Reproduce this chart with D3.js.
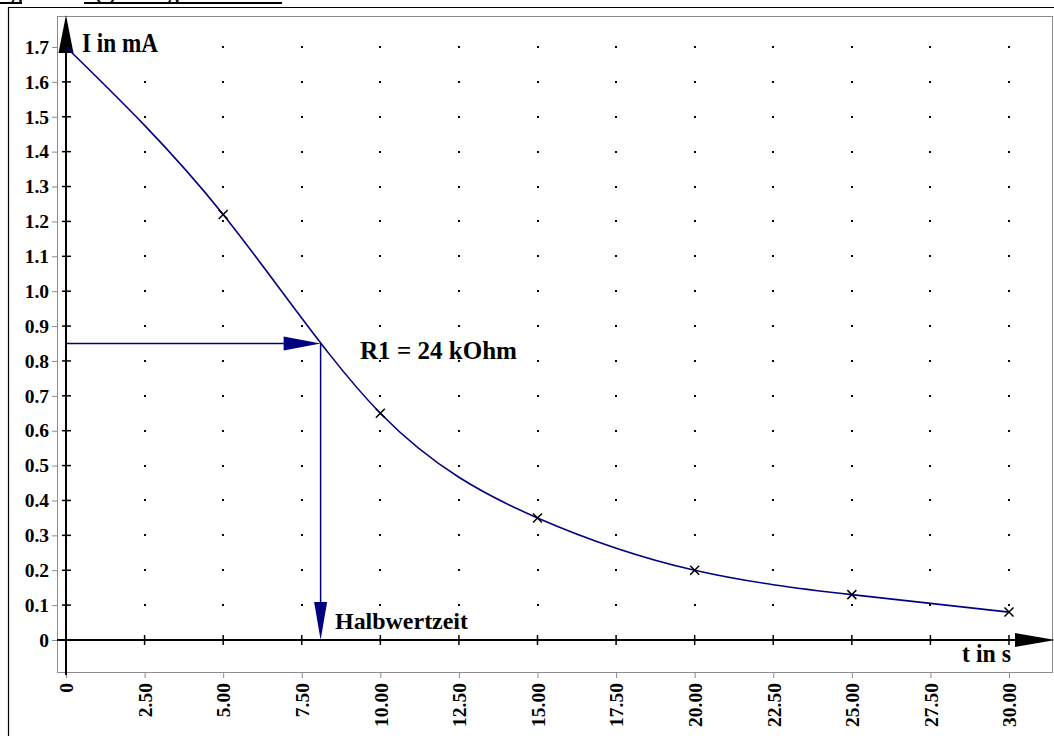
<!DOCTYPE html>
<html>
<head>
<meta charset="utf-8">
<script src="https://cdn.jsdelivr.net/npm/d3@7"></script>
<style>
  html, body { margin: 0; padding: 0; background: #fff; }
  svg { display: block; }
  text { font-family: "Liberation Serif", "Times New Roman", serif; font-weight: bold; }
</style>
</head>
<body>
<svg id="chart" width="1054" height="736"></svg>
<script>
// Measured discharge current of the capacitor
const times = [0, 5, 10, 15, 20, 25, 30];            // t in s
const currents = [1.7, 1.22, 0.65, 0.35, 0.2, 0.13, 0.08]; // I in mA
const markedTimes = [5, 10, 15, 20, 25, 30];
const markedCurrents = [1.22, 0.65, 0.35, 0.2, 0.13, 0.08];

// Half-life reading
const halfTime = 8.1;
const halfCurrent = 0.85;

// Axis ticks and their labels
const xTicks = [0, 2.5, 5, 7.5, 10, 12.5, 15, 17.5, 20, 22.5, 25, 27.5, 30];
const xTickLabels = ["0", "2.50", "5.00", "7.50", "10.00", "12.50", "15.00", "17.50", "20.00", "22.50", "25.00", "27.50", "30.00"];
const yTicks = [0, 0.1, 0.2, 0.3, 0.4, 0.5, 0.6, 0.7, 0.8, 0.9, 1.0, 1.1, 1.2, 1.3, 1.4, 1.5, 1.6, 1.7];
const yTickLabels = ["0", "0.1", "0.2", "0.3", "0.4", "0.5", "0.6", "0.7", "0.8", "0.9", "1.0", "1.1", "1.2", "1.3", "1.4", "1.5", "1.6", "1.7"];

const svg = d3.select("#chart");
const navy = "#000080";

const x = d3.scaleLinear().domain([0, 30]).range([66, 1009]);
const y = d3.scaleLinear().domain([0, 1.7]).range([640, 47]);

const frame = { left: 57, top: 16, right: 1052, bottom: 672 };

// Heading (partly outside the page)
svg.append("text").attr("x", 22).attr("y", -1).attr("text-anchor", "end")
  .attr("font-size", 22).text("Entladung");
svg.append("text").attr("x", 86).attr("y", -1)
  .attr("font-size", 22).text("I(t) - Diagramm");
svg.append("line").attr("x1", 0).attr("x2", 22).attr("y1", 3).attr("y2", 3)
  .attr("stroke", "#000").attr("stroke-width", 2);
svg.append("line").attr("x1", 84).attr("x2", 282).attr("y1", 3).attr("y2", 3)
  .attr("stroke", "#000").attr("stroke-width", 2);

// Outer page frame
svg.append("path").attr("d", "M8.5,736 V7.5 H1054")
  .attr("fill", "none").attr("stroke", "#000").attr("stroke-width", 1.2);

// Grey plot frame
svg.append("rect")
  .attr("x", frame.left + 0.5).attr("y", frame.top + 0.5)
  .attr("width", frame.right - frame.left).attr("height", frame.bottom - frame.top)
  .attr("fill", "none").attr("stroke", "#8c8c8c").attr("stroke-width", 1);

// Frame axes carrying the tick labels
const yAxis = d3.axisLeft(y).tickValues(yTicks)
  .tickFormat((d, i) => yTickLabels[i]).tickSize(5).tickPadding(3).tickSizeOuter(0);
const gy = svg.append("g").attr("transform", `translate(${frame.left},0)`).call(yAxis);
gy.select(".domain").remove();
gy.selectAll(".tick line").attr("stroke", "#8c8c8c");
gy.selectAll(".tick text").attr("font-size", 19.5).attr("font-family", "Liberation Serif")
  .attr("font-weight", "bold").attr("fill", "#000");

const xAxis = d3.axisBottom(x).tickValues(xTicks)
  .tickFormat((d, i) => xTickLabels[i]).tickSize(6).tickSizeOuter(0);
const gx = svg.append("g").attr("transform", `translate(0,${frame.bottom})`).call(xAxis);
gx.select(".domain").remove();
gx.selectAll(".tick line").attr("stroke", "#8c8c8c");
gx.selectAll(".tick text")
  .attr("transform", "rotate(-90)")
  .attr("text-anchor", "end")
  .attr("x", -11).attr("y", 0).attr("dy", "0.35em")
  .attr("font-size", 19.5).attr("font-family", "Liberation Serif")
  .attr("font-weight", "bold").attr("fill", "#000");

// Dot grid
const gridPts = [];
xTicks.filter(t => t > 0).forEach(t => yTicks.filter(v => v > 0).forEach(v => gridPts.push([t, v])));
svg.append("g").selectAll("rect").data(gridPts).join("rect")
  .attr("x", d => Math.round(x(d[0])) - 1).attr("y", d => Math.round(y(d[1])) - 1)
  .attr("width", 2).attr("height", 2).attr("fill", "#000");

// Coordinate axes through the origin
svg.append("line").attr("x1", x(0)).attr("x2", x(0)).attr("y1", 30).attr("y2", 675)
  .attr("stroke", "#000").attr("stroke-width", 2);
svg.append("line").attr("x1", frame.left).attr("x2", 1030).attr("y1", y(0)).attr("y2", y(0))
  .attr("stroke", "#000").attr("stroke-width", 2);
// arrow heads
svg.append("path").attr("d", `M${x(0)},15 L${x(0) + 7.5},53 L${x(0) - 7.5},53 Z`).attr("fill", "#000");
svg.append("path").attr("d", `M1056,${y(0)} L1015,${y(0) - 7} L1015,${y(0) + 7} Z`).attr("fill", "#000");

// Tick crosses on the axes
svg.append("g").selectAll("line").data(yTicks.filter(v => v > 0)).join("line")
  .attr("x1", x(0) - 4).attr("x2", x(0) + 5)
  .attr("y1", d => y(d)).attr("y2", d => y(d))
  .attr("stroke", "#000").attr("stroke-width", 1.5);
svg.append("g").selectAll("line").data(xTicks.filter(t => t > 0)).join("line")
  .attr("x1", d => x(d)).attr("x2", d => x(d))
  .attr("y1", y(0) - 5).attr("y2", y(0) + 5)
  .attr("stroke", "#000").attr("stroke-width", 1.5);

// Fitted discharge curve
const line = d3.line().x(d => x(d[0])).y(d => y(d[1])).curve(d3.curveNatural);
svg.append("path").datum(times.map((t, i) => [t, currents[i]]))
  .attr("d", line).attr("fill", "none").attr("stroke", navy).attr("stroke-width", 1.6);

// Measurement crosses
const s = 4.5;
svg.append("g").selectAll("path").data(markedTimes.map((t, i) => [t, markedCurrents[i]])).join("path")
  .attr("d", d => {
    const cx = x(d[0]), cy = y(d[1]);
    return `M${cx - s},${cy - s}L${cx + s},${cy + s}M${cx - s},${cy + s}L${cx + s},${cy - s}`;
  })
  .attr("stroke", "#000").attr("stroke-width", 1.5).attr("fill", "none");

// Half-life construction
const hx = x(halfTime), hy = y(halfCurrent);
svg.append("line").attr("x1", x(0)).attr("x2", hx - 30).attr("y1", hy).attr("y2", hy)
  .attr("stroke", navy).attr("stroke-width", 1.5);
svg.append("path").attr("d", `M${hx},${hy} L${hx - 37},${hy - 7} L${hx - 37},${hy + 7} Z`).attr("fill", navy);
svg.append("line").attr("x1", hx).attr("x2", hx).attr("y1", hy).attr("y2", y(0) - 30)
  .attr("stroke", navy).attr("stroke-width", 1.5);
svg.append("path").attr("d", `M${hx},${y(0)} L${hx - 6.5},${y(0) - 38} L${hx + 6.5},${y(0) - 38} Z`).attr("fill", navy);

// Labels
function label(txt, lx, ly, size, width) {
  svg.append("text").attr("x", lx).attr("y", ly).attr("font-size", size)
    .attr("textLength", width).attr("lengthAdjust", "spacingAndGlyphs").text(txt);
}
label("I in mA", 82, 52, 27, 76);
label("t in s", 962, 662, 25, 49);
label("R1 = 24 kOhm", 360, 359, 25, 157);
label("Halbwertzeit", 335, 629, 24, 133);
</script>
</body>
</html>
